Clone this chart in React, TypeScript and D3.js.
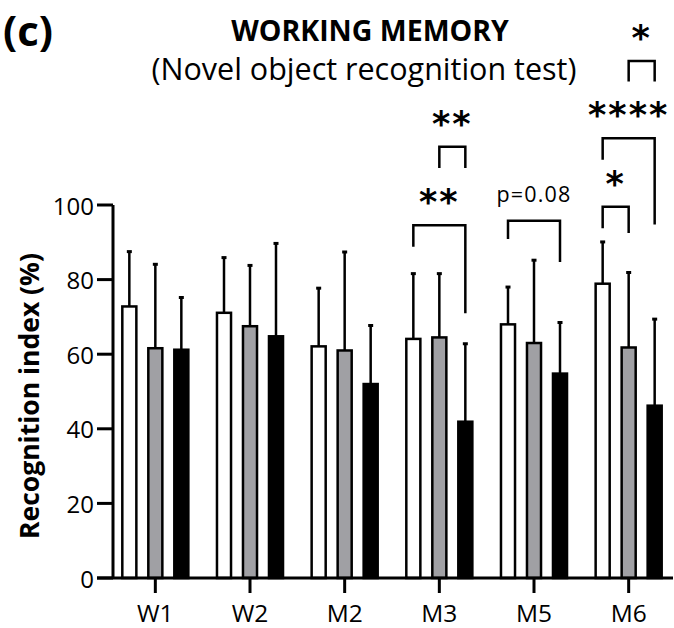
import React from 'react';
import * as d3 from 'd3';

// Recognition index (%) per age group, mean and SD for the three groups
const categories = ['W1', 'W2', 'M2', 'M3', 'M5', 'M6'];
const groupKeys = ['white', 'gray', 'black'];
const whiteMeans = [72.8, 71.1, 62.1, 64.1, 68.0, 78.9];
const whiteSD = [14.7, 14.8, 15.6, 17.5, 10.0, 11.2];
const grayMeans = [61.6, 67.5, 61.0, 64.5, 63.0, 61.8];
const graySD = [22.5, 16.3, 26.4, 17.1, 22.2, 20.1];
const blackMeans = [61.2, 64.8, 52.0, 41.9, 54.8, 46.2];
const blackSD = [14.0, 24.9, 15.7, 20.9, 13.7, 23.2];
const yTicks = [0, 20, 40, 60, 80, 100];

// Significance brackets: groups compared (index), bracket height and leg ends in % units
const brackets = [
  { category: 'M3', from: 0, to: 2, top: 94.6, leftEnd: 88.8, rightEnd: 71.0, label: '**' },
  { category: 'M3', from: 1, to: 2, top: 115.6, leftEnd: 109.9, rightEnd: 109.9, label: '**' },
  { category: 'M5', from: 0, to: 2, top: 95.8, leftEnd: 90.9, rightEnd: 84.7, label: 'p=0.08' },
  { category: 'M6', from: 0, to: 1, top: 99.5, leftEnd: 93.8, rightEnd: 92.5, label: '*' },
  { category: 'M6', from: 0, to: 2, top: 117.9, leftEnd: 112.1, rightEnd: 94.8, label: '****' },
  { category: 'M6', from: 1, to: 2, top: 138.6, leftEnd: 133.1, rightEnd: 133.1, label: '*' },
];

const fills: Record<string, string> = { white: '#ffffff', gray: '#a0a0a4', black: '#000000' };
const series = [
  { key: 'white', means: whiteMeans, sd: whiteSD },
  { key: 'gray', means: grayMeans, sd: graySD },
  { key: 'black', means: blackMeans, sd: blackSD },
];

const W = 674;
const H = 628;
const FONT = "'Open Sans', sans-serif";

export default function App() {
  const y = d3.scaleLinear().domain([0, 100]).range([578, 205]);
  const x = d3.scaleBand().domain(categories).range([108, 676]);
  const sub = d3.scaleBand().domain(groupKeys).range([-39, 39]).paddingInner(0.46).paddingOuter(0.23);
  const center = (c: string) => (x(c) as number) + x.bandwidth() / 2;
  const groupX = (c: string, g: string) => center(c) + (sub(g) as number) + sub.bandwidth() / 2;
  const axisX = 113;
  const y0 = y(0);

  return (
    <svg width={W} height={H} style={{ position: 'absolute', left: 0, top: 0, background: '#fff' }}>
      {/* headings */}
      <text x={3} y={46} fontFamily={FONT} fontWeight={700} fontSize={42}>(c)</text>
      <text x={370} y={41} textAnchor="middle" fontFamily={FONT} fontWeight={700} fontSize={28.5}>WORKING MEMORY</text>
      <text x={364} y={80} textAnchor="middle" fontFamily={FONT} fontSize={30.5}>(Novel object recognition test)</text>

      {/* bars */}
      {series.map((s) =>
        categories.map((c, i) => {
          const cx = groupX(c, s.key);
          const top = y(s.means[i]);
          const errTop = y(s.means[i] + s.sd[i]);
          return (
            <g key={s.key + c}>
              <line x1={cx} x2={cx} y1={top} y2={errTop} stroke="#000" strokeWidth={2.5} />
              <line x1={cx - 2.5} x2={cx + 2.5} y1={errTop} y2={errTop} stroke="#000" strokeWidth={3} />
              <rect
                x={cx - sub.bandwidth() / 2}
                y={top}
                width={sub.bandwidth()}
                height={y0 - top}
                fill={fills[s.key]}
                stroke="#000"
                strokeWidth={2.5}
              />
            </g>
          );
        })
      )}

      {/* y axis */}
      <line x1={axisX} x2={axisX} y1={y(100)} y2={y0} stroke="#000" strokeWidth={3} />
      {yTicks.map((t) => (
        <g key={t}>
          <line x1={97} x2={axisX} y1={y(t)} y2={y(t)} stroke="#000" strokeWidth={3} />
          <text x={94} y={y(t)} textAnchor="end" dominantBaseline="central" fontFamily={FONT} fontSize={24}>
            {t}
          </text>
        </g>
      ))}
      <text
        transform={`translate(29,396) rotate(-90)`}
        textAnchor="middle"
        dominantBaseline="central"
        fontFamily={FONT}
        fontWeight={700}
        fontSize={26.5}
      >
        Recognition index (%)
      </text>

      {/* x axis */}
      <line x1={97} x2={673} y1={y0} y2={y0} stroke="#000" strokeWidth={3} />
      {categories.map((c) => (
        <g key={c}>
          <line x1={center(c)} x2={center(c)} y1={y0} y2={y0 + 15} stroke="#000" strokeWidth={3} />
          <text x={center(c)} y={622} textAnchor="middle" fontFamily={FONT} fontSize={24.5}>
            {c}
          </text>
        </g>
      ))}

      {/* significance brackets */}
      {brackets.map((b, i) => {
        const x1 = groupX(b.category, groupKeys[b.from]);
        const x2 = groupX(b.category, groupKeys[b.to]);
        const yt = y(b.top);
        const isStars = b.label.startsWith('*');
        return (
          <g key={i}>
            <path
              d={`M${x1},${y(b.leftEnd)}V${yt}H${x2}V${y(b.rightEnd)}`}
              fill="none"
              stroke="#000"
              strokeWidth={2.5}
            />
            {isStars ? (
              <text
                x={(x1 + x2) / 2}
                y={yt - 11}
                textAnchor="middle"
                fontFamily="'DejaVu Sans', sans-serif"
                fontWeight={700}
                fontSize={35}
                letterSpacing={2}
              >
                {b.label}
              </text>
            ) : (
              <text x={(x1 + x2) / 2} y={yt - 18.5} textAnchor="middle" fontFamily={FONT} fontSize={21.5} letterSpacing={1.2}>
                {b.label}
              </text>
            )}
          </g>
        );
      })}
    </svg>
  );
}
